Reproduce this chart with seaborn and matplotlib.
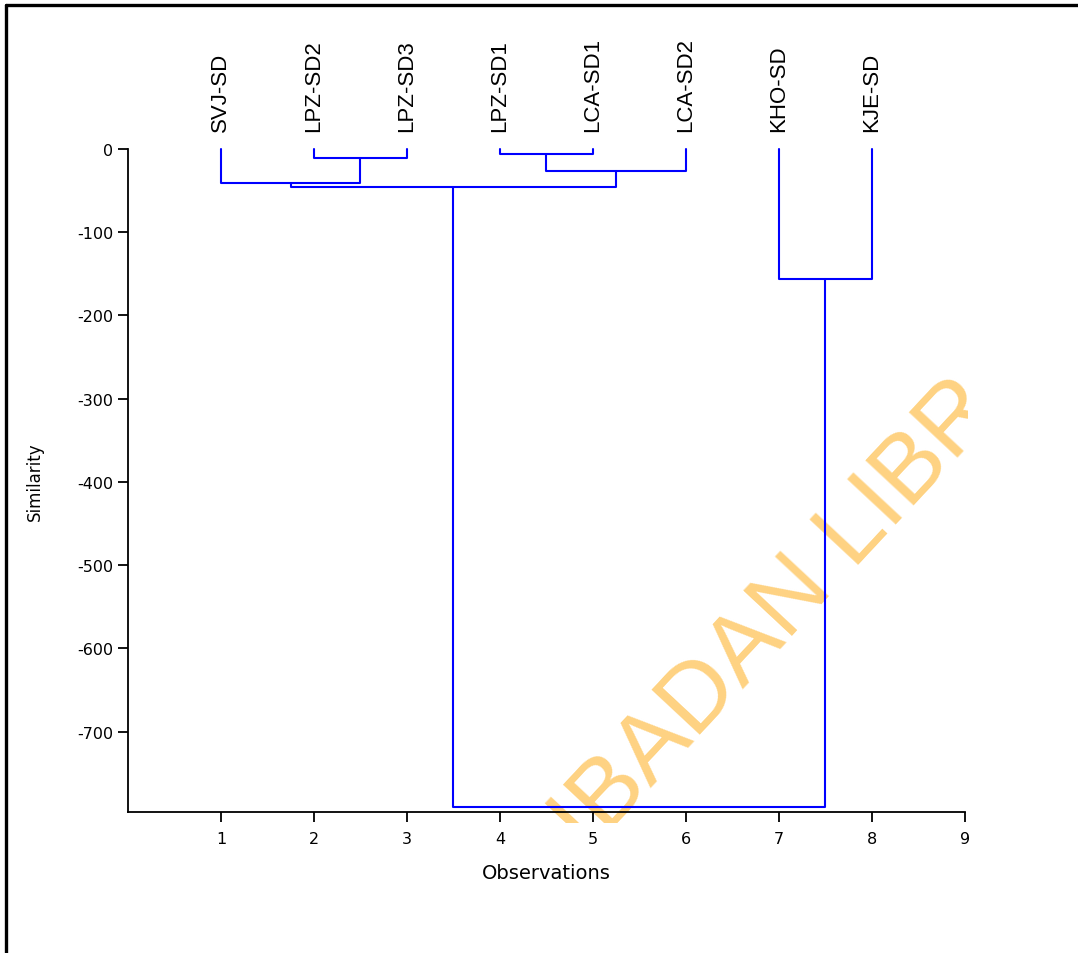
import matplotlib
matplotlib.use("Agg")
import matplotlib.pyplot as plt
import seaborn as sns
from matplotlib.lines import Line2D
from matplotlib.patches import Rectangle
from matplotlib.transforms import offset_copy

sns.set_style("ticks")
plt.rcParams['font.family'] = ['DejaVu Sans']
plt.rcParams['axes.unicode_minus'] = False
plt.rcParams['text.color'] = 'black'
plt.rcParams['axes.labelcolor'] = 'black'
plt.rcParams['xtick.color'] = 'black'
plt.rcParams['ytick.color'] = 'black'

# leaves of the dendrogram, left to right
labels = ["SVJ-SD", "LPZ-SD2", "LPZ-SD3", "LPZ-SD1",
          "LCA-SD1", "LCA-SD2", "KHO-SD", "KJE-SD"]
leaf_pos = [1, 2, 3, 4, 5, 6, 7, 8]

# merges: cluster ids (leaves 0-7, new clusters 8..), similarity level
merge_a = [1, 3, 0, 9, 10, 6, 12]
merge_b = [2, 4, 8, 5, 11, 7, 13]
merge_h = [-11, -6, -41, -26, -46, -156, -791]

yticks = [0, -100, -200, -300, -400, -500, -600, -700]
xticks = [1, 2, 3, 4, 5, 6, 7, 8, 9]

fig = plt.figure(figsize=(10.78, 9.54), dpi=100)
ax = fig.add_axes([0.1187, 0.1473, 0.7764, 0.6955])
ax.set_facecolor('none')

#------------------------------------------------------------------------------#
xpos = list(leaf_pos)
ypos = [0] * len(leaf_pos)
for a, b, h in zip(merge_a, merge_b, merge_h):
    xs = [xpos[a], xpos[a], xpos[b], xpos[b]]
    ys = [ypos[a], h, h, ypos[b]]
    sns.lineplot(x=xs, y=ys, sort=False, estimator=None, color='blue',
                 lw=1.5, ax=ax, clip_on=False)
    xpos.append((xpos[a] + xpos[b]) / 2)
    ypos.append(h)

ax.set_xlim(0, 9)
ax.set_ylim(-797, 0)
ax.set_xticks(xticks)
ax.set_xticklabels([str(v) for v in xticks])
ax.set_yticks(yticks)
ax.set_yticklabels([str(v) for v in yticks])
sns.despine(ax=ax)
for s in ['left', 'bottom']:
    ax.spines[s].set_linewidth(1.3)
    ax.spines[s].set_color('black')
ax.tick_params(length=7.5, width=1.3, labelsize=11.5, color='black',
               labelcolor='black')
ax.tick_params(axis='x', pad=6)
ax.tick_params(axis='y', pad=3)

ax.set_xlabel("Observations", fontsize=14, labelpad=12, color='black')
ax.set_ylabel("Similarity", fontsize=12, labelpad=24, color='black')

# leaf names above the plot
trans = offset_copy(ax.transData, fig=fig, x=0, y=18, units='dots')
for x, lab in zip(leaf_pos, labels):
    ax.text(x, 0, lab, rotation=90, ha='center', va='bottom', transform=trans,
            fontsize=16, family='Liberation Sans', color='black')

# watermark
wm = fig.text(0.545, 0.104, "IBADAN LIBRARY", rotation=47,
              rotation_mode='anchor', ha='left', va='baseline', fontsize=70,
              color='#FED282', family='Liberation Sans', zorder=-1)
clip = Rectangle((0, 0.136), 0.898, 0.612 - 0.136, transform=fig.transFigure)
wm.set_clip_path(clip)

# page frame (left and top)
fig.add_artist(Line2D([5.5 / 1078, 5.5 / 1078], [0, 1 - 5.5 / 954],
                      transform=fig.transFigure, color='black', lw=2.4))
fig.add_artist(Line2D([5.5 / 1078, 1], [1 - 5.5 / 954, 1 - 5.5 / 954],
                      transform=fig.transFigure, color='black', lw=2.4))

plt.savefig("out.png", dpi=100)
